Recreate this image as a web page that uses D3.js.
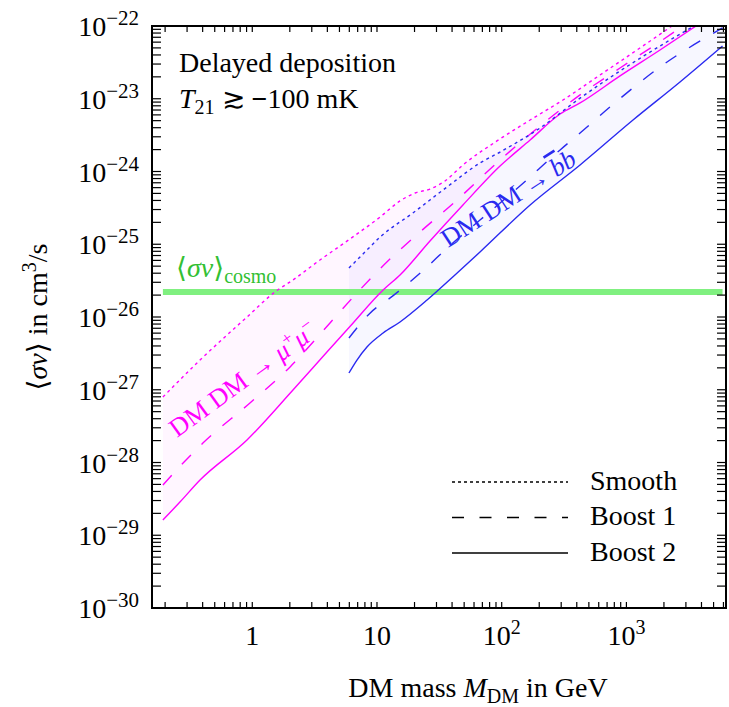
<!DOCTYPE html>
<html>
<head>
<meta charset="utf-8">
<script src="https://cdn.jsdelivr.net/npm/d3@7"></script>
<style>
body { margin: 0; background: #fff; }
svg { font-family: "Liberation Serif", "DejaVu Serif", serif; }
</style>
</head>
<body>
<script>
// values: [DM mass in GeV, <sigma v> in cm^3/s]
var muSmooth = [[0.192, 7.94e-28], [0.381, 2.56e-27], [0.907, 1.0e-26], [1.52, 2.21e-26], [2.12, 3.23e-26],
  [3.49, 6.08e-26], [6.07, 1.18e-25], [10.6, 2.37e-25], [15.3, 3.94e-25], [20.2, 5.06e-25], [26.6, 5.74e-25],
  [35.1, 7.40e-25], [48.9, 1.23e-24], [91.6, 2.63e-24], [169, 5.10e-24], [310, 9.61e-24], [614, 2.12e-23],
  [1285, 4.99e-23], [2322, 1e-22]];
var muBoost1 = [[0.192, 4.91e-29], [0.289, 1.05e-28], [0.402, 1.85e-28], [0.958, 6.58e-28], [2.01, 2.06e-27],
  [4.20, 8.28e-27], [6.91, 2.14e-26], [12.0, 5.70e-26], [22.1, 1.47e-25], [43.8, 4.06e-25], [97.0, 1.44e-24],
  [203, 4.22e-24], [425, 1.13e-23], [889, 2.65e-23], [1695, 5.48e-23], [2843, 1e-22]];
var muBoost2 = [[0.192, 1.62e-29], [0.263, 2.86e-29], [0.381, 5.74e-29], [0.907, 2.04e-28], [2.12, 9.93e-28],
  [3.97, 3.30e-27], [6.07, 7.4e-27], [11.2, 2.35e-26], [15.3, 3.78e-26], [26.6, 1.11e-25], [48.9, 3.47e-25],
  [97.0, 1.19e-24], [169, 2.71e-24], [294, 6.17e-24], [425, 8.75e-24], [889, 2.06e-23], [1860, 4.68e-23],
  [3614, 1e-22]];
var bSmooth = [[5.96, 4.72e-26], [8.01, 7.82e-26], [10.6, 1.26e-25], [19.4, 2.69e-25], [36.4, 6.12e-25],
  [67.0, 1.31e-24], [97.0, 1.85e-24], [203, 3.96e-24], [425, 1.02e-23], [889, 2.41e-23], [1860, 5.31e-23],
  [3483, 1e-22]];
var bBoost1 = [[5.96, 5.14e-27], [8.79, 1.13e-26], [13.4, 1.95e-26], [25.2, 4.87e-26], [35.1, 8.34e-26],
  [67.0, 2.15e-25], [140, 6.32e-25], [294, 1.98e-24], [425, 3.38e-24], [739, 7.71e-24], [1860, 2.73e-23],
  [5900, 9.4e-23]];
var bBoost2 = [[5.96, 1.70e-27], [6.91, 2.56e-27], [8.31, 3.87e-27], [11.2, 6.03e-27], [15.3, 8.54e-27],
  [25.2, 1.71e-26], [42.2, 3.78e-26], [67.0, 7.82e-26], [169, 3.47e-25], [425, 1.23e-24], [1130, 5.10e-24],
  [2690, 1.70e-23], [5900, 5.31e-23]];
var sigmaCosmo = 2.2e-26;

var xMajor = [1, 10, 100, 1000];
var xMajorBase = ["1", "10", "10", "10"];
var xMajorExp = ["", "", "2", "3"];
var yMajorExp = [-30, -29, -28, -27, -26, -25, -24, -23, -22];
var legendNames = ["Smooth", "Boost 1", "Boost 2"];

var w = 729, h = 707;
var pLeft = 152, pRight = 726, pTop = 26, pBottom = 608;

var svg = d3.select("body").append("svg")
  .attr("width", w)
  .attr("height", h);

var x = d3.scaleLog().domain([0.157, 6290]).range([pLeft, pRight]);
var y = d3.scaleLog().domain([1e-30, 1e-22]).range([pBottom, pTop]);

svg.append("clipPath").attr("id", "plot")
  .append("rect").attr("x", pLeft).attr("y", pTop)
  .attr("width", pRight - pLeft).attr("height", pBottom - pTop);

var g = svg.append("g").attr("clip-path", "url(#plot)");

var line = d3.line()
  .x(function(d) { return x(d[0]); })
  .y(function(d) { return y(d[1]); })
  .curve(d3.curveMonotoneX);
var poly = d3.line()
  .x(function(d) { return x(d[0]); })
  .y(function(d) { return y(d[1]); });

// shaded bands between smooth and boost 2
var muBand = muSmooth.concat(muBoost2.slice().reverse());
var bBand = bSmooth.concat([[bBoost2[bBoost2.length - 1][0], 1e-22]], bBoost2.slice().reverse());
g.append("path").attr("d", poly(muBand) + "Z")
  .attr("fill", "#ff00ff").attr("fill-opacity", 0.035);
g.append("path").attr("d", poly(bBand) + "Z")
  .attr("fill", "#0000ff").attr("fill-opacity", 0.03);

// thermal relic line
g.append("line")
  .attr("x1", x(muSmooth[0][0])).attr("x2", x(bBoost2[bBoost2.length - 1][0]))
  .attr("y1", y(sigmaCosmo)).attr("y2", y(sigmaCosmo))
  .attr("stroke", "#80f080").attr("stroke-width", 6);

var series = [
  {data: muSmooth, color: "#ff00ff", dash: "3,3.5"},
  {data: muBoost1, color: "#ff00ff", dash: "13,15"},
  {data: muBoost2, color: "#ff00ff", dash: null},
  {data: bSmooth, color: "#2a2af0", dash: "3,3.5"},
  {data: bBoost1, color: "#2a2af0", dash: "13,15"},
  {data: bBoost2, color: "#2a2af0", dash: null}
];
series.forEach(function(s) {
  g.append("path")
    .attr("d", line(s.data))
    .attr("fill", "none")
    .attr("stroke", s.color)
    .attr("stroke-width", 1.4)
    .attr("stroke-dasharray", s.dash);
});

// frame and ticks on all sides
svg.append("rect").attr("x", pLeft).attr("y", pTop)
  .attr("width", pRight - pLeft).attr("height", pBottom - pTop)
  .attr("fill", "none").attr("stroke", "#000").attr("stroke-width", 2);

var ticks = svg.append("g").attr("stroke", "#000").attr("stroke-width", 1.2);
x.ticks().forEach(function(t) {
  var px = x(t);
  if (px < pLeft + 2 || px > pRight - 2) return;
  ticks.append("line").attr("x1", px).attr("x2", px).attr("y1", pBottom).attr("y2", pBottom - 6);
  ticks.append("line").attr("x1", px).attr("x2", px).attr("y1", pTop).attr("y2", pTop + 6);
});
y.ticks().forEach(function(t) {
  var py = y(t);
  if (py < pTop + 2 || py > pBottom - 2) return;
  ticks.append("line").attr("x1", pLeft).attr("x2", pLeft + 9).attr("y1", py).attr("y2", py);
  ticks.append("line").attr("x1", pRight).attr("x2", pRight - 9).attr("y1", py).attr("y2", py);
});

// tick labels
xMajor.forEach(function(t, i) {
  var tx = svg.append("text").attr("x", x(t)).attr("y", 645)
    .attr("text-anchor", "middle").attr("font-size", 28);
  tx.append("tspan").text(xMajorBase[i]);
  if (xMajorExp[i]) tx.append("tspan").attr("dy", -11).attr("font-size", 20).text(xMajorExp[i]);
});
yMajorExp.forEach(function(e) {
  var ty = svg.append("text").attr("x", 139).attr("y", y(Math.pow(10, e)) + 10)
    .attr("text-anchor", "end").attr("font-size", 28);
  ty.append("tspan").text("10");
  ty.append("tspan").attr("dy", -11).attr("font-size", 21).text("\u2212" + Math.abs(e));
});

// axis titles
var xt = svg.append("text").attr("x", 478).attr("y", 697)
  .attr("text-anchor", "middle").attr("font-size", 28);
xt.append("tspan").text("DM mass ");
xt.append("tspan").attr("font-style", "italic").text("M");
xt.append("tspan").attr("font-size", 20).attr("dy", 6).text("DM");
xt.append("tspan").attr("dy", -6).text(" in GeV");

var yt = svg.append("text").attr("transform", "translate(47,317) rotate(-90)")
  .attr("text-anchor", "middle").attr("font-size", 28);
yt.append("tspan").text("\u27e8");
yt.append("tspan").attr("font-style", "italic").text("\u03c3v");
yt.append("tspan").text("\u27e9 in cm");
yt.append("tspan").attr("font-size", 20).attr("dy", -11).text("3");
yt.append("tspan").attr("dy", 11).text("/s");

// annotations
svg.append("text").attr("x", 179).attr("y", 72).attr("font-size", 28).text("Delayed deposition");
var tl = svg.append("text").attr("x", 179).attr("y", 108).attr("font-size", 28);
tl.append("tspan").attr("font-style", "italic").text("T");
tl.append("tspan").attr("font-size", 20).attr("dy", 6).text("21");
tl.append("tspan").attr("dy", -6).text(" \u2273 ");
tl.append("tspan").attr("font-weight", "bold").text("\u2212");
tl.append("tspan").text("100 mK");

var cl = svg.append("text").attr("x", 176).attr("y", 277).attr("font-size", 28).attr("fill", "#33c033");
cl.append("tspan").text("\u27e8");
cl.append("tspan").attr("font-style", "italic").text("\u03c3v");
cl.append("tspan").text("\u27e9");
cl.append("tspan").attr("font-size", 20).attr("dy", 6).text("cosmo");

var ml = svg.append("text").attr("transform", "translate(177,438) rotate(-36)")
  .attr("font-size", 26).attr("fill", "#ff00ff");
ml.append("tspan").text("DM DM \u2192 ");
ml.append("tspan").attr("font-style", "italic").text("\u03bc");
ml.append("tspan").attr("font-size", 18).attr("dy", -10).text("+");
ml.append("tspan").attr("dy", 10).attr("font-style", "italic").text("\u03bc");
ml.append("tspan").attr("font-size", 18).attr("dy", -10).text("\u2212");

var bl = svg.append("text").attr("transform", "translate(448,248) rotate(-33)")
  .attr("font-size", 26).attr("fill", "#2a2af0");
bl.append("tspan").text("DM DM \u2192 ");
bl.append("tspan").attr("font-style", "italic").style("text-decoration", "overline").text("b");
bl.append("tspan").attr("font-style", "italic").text("b");

// legend
var dashes = ["3,3", "12,15.5", null];
var lg = svg.append("g");
legendNames.forEach(function(n, i) {
  var ly = 482 + i * 35.5;
  lg.append("line").attr("x1", 452).attr("x2", 568).attr("y1", ly).attr("y2", ly)
    .attr("stroke", "#000").attr("stroke-width", 1.3).attr("stroke-dasharray", dashes[i]);
  lg.append("text").attr("x", 590).attr("y", ly + 7.5).attr("font-size", 28).text(n);
});
</script>
</body>
</html>
